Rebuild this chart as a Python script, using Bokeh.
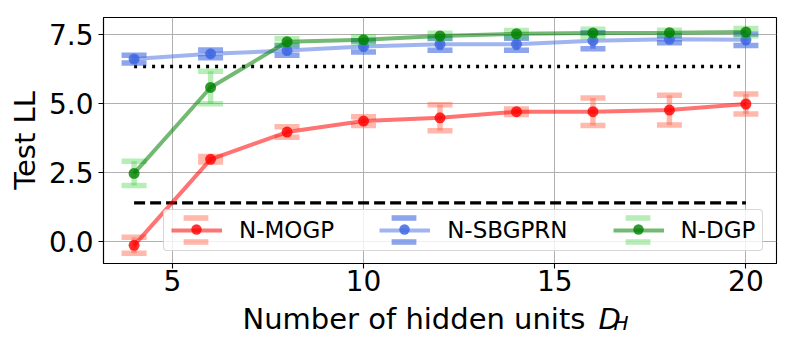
from bokeh.plotting import figure
from bokeh.layouts import column
from bokeh.models import (Range1d, FixedTicker, PrintfTickFormatter, Legend,
                          LegendItem, Label, ColumnDataSource)
from bokeh.embed import file_html
from bokeh.resources import INLINE

# ---------------- data ----------------
hidden_units = [4, 6, 8, 10, 12, 14, 16, 18, 20]

mogp_mean = [-0.15, 2.97, 3.96, 4.36, 4.48, 4.70, 4.70, 4.76, 4.98]
mogp_err = [0.29, 0.10, 0.19, 0.16, 0.47, 0.10, 0.50, 0.54, 0.36]

sbgprn_mean = [6.61, 6.80, 6.92, 7.07, 7.15, 7.15, 7.28, 7.33, 7.31]
sbgprn_err = [0.14, 0.14, 0.17, 0.20, 0.22, 0.22, 0.29, 0.13, 0.21]

dgp_mean = [2.46, 5.58, 7.24, 7.31, 7.45, 7.53, 7.56, 7.57, 7.59]
dgp_err = [0.44, 0.59, 0.11, 0.11, 0.10, 0.12, 0.13, 0.09, 0.13]

series_names = ["N-MOGP", "N-SBGPRN", "N-DGP"]

dotted_baseline = 6.34
dashed_baseline = 1.39

x_ticks = [5, 10, 15, 20]
y_ticks = [0.0, 2.5, 5.0, 7.5]

# ---------------- layout constants ----------------
FONT = "DejaVu Sans"
FRAME_L, FRAME_T = 103, 17          # canvas coords of the plot frame
FRAME_W, FRAME_H = 673, 246
FRAME_BOTTOM = FRAME_T + FRAME_H
MAIN_BOTTOM_BORDER = 70             # larger than the x axis needs -> exact
MAIN_H = FRAME_BOTTOM + MAIN_BOTTOM_BORDER
STRIP_TOP = 285                     # nominal start of the x-label strip
STRIP_H = 60

p = figure(frame_width=FRAME_W, frame_height=FRAME_H,
           min_border_left=FRAME_L, min_border_right=17,
           min_border_top=FRAME_T, min_border_bottom=MAIN_BOTTOM_BORDER,
           x_range=Range1d(3.2, 20.8), y_range=Range1d(-0.81, 8.12),
           output_backend="svg", toolbar_location=None,
           background_fill_color="white", border_fill_color="white")

p.outline_line_color = "black"
p.outline_line_width = 1.1

for ax in (p.xaxis[0], p.yaxis[0]):
    ax.axis_line_color = "black"
    ax.axis_line_width = 1.1
    ax.major_tick_line_color = "black"
    ax.major_tick_line_width = 1.1
    ax.major_tick_out = 5
    ax.major_tick_in = 0
    ax.minor_tick_line_color = None
    ax.major_label_text_font = FONT
    ax.major_label_text_font_size = "28px"
    ax.major_label_text_color = "black"
    ax.major_label_standoff = 5

p.xaxis.ticker = FixedTicker(ticks=x_ticks)
p.yaxis.ticker = FixedTicker(ticks=y_ticks)
p.yaxis.formatter = PrintfTickFormatter(format="%.1f")
p.xaxis.major_label_standoff = 1

p.yaxis.axis_label = "Test LL"
p.yaxis.axis_label_text_font = FONT
p.yaxis.axis_label_text_font_size = "29px"
p.yaxis.axis_label_text_font_style = "normal"
p.yaxis.axis_label_text_color = "black"
p.yaxis.axis_label_standoff = 4

p.xgrid.grid_line_color = "#b0b0b0"
p.ygrid.grid_line_color = "#b0b0b0"
p.xgrid.grid_line_width = 1
p.ygrid.grid_line_width = 1

# ---------------- baselines ----------------
p.line(x=[hidden_units[0], hidden_units[-1]], y=[dotted_baseline, dotted_baseline],
       line_color="black", line_width=3.4, line_dash="3 6")
p.line(x=[hidden_units[0], hidden_units[-1]], y=[dashed_baseline, dashed_baseline],
       line_color="black", line_width=3.2, line_dash="11 5")

# ---------------- series ----------------
styles = [
    dict(color="red", line_alpha=0.55, marker_alpha=0.8, ecolor="tomato", ealpha=0.45),
    dict(color="royalblue", line_alpha=0.5, marker_alpha=0.85, ecolor="royalblue", ealpha=0.6),
    dict(color="green", line_alpha=0.55, marker_alpha=0.8, ecolor="limegreen", ealpha=0.35),
]
means = [mogp_mean, sbgprn_mean, dgp_mean]
errs = [mogp_err, sbgprn_err, dgp_err]

legend_parts = []
for name, mean, err, st in zip(series_names, means, errs, styles):
    src = ColumnDataSource(dict(
        x=hidden_units, y=mean,
        lower=[m - e for m, e in zip(mean, err)],
        upper=[m + e for m, e in zip(mean, err)]))
    p.segment(x0="x", y0="lower", x1="x", y1="upper", source=src,
              line_color=st["ecolor"], line_alpha=st["ealpha"], line_width=5.5)
    cap_kw = dict(width=25, height=5.5, width_units="screen", height_units="screen",
                  fill_color=st["ecolor"], fill_alpha=st["ealpha"], line_color=None,
                  source=src)
    cap_r = p.rect(x="x", y="upper", **cap_kw)
    p.rect(x="x", y="lower", **cap_kw)
    line_r = p.line("x", "y", source=src, line_color=st["color"],
                    line_alpha=st["line_alpha"], line_width=4)
    dot_r = p.scatter("x", "y", source=src, size=11, marker="circle",
                      fill_color=st["color"], fill_alpha=st["marker_alpha"],
                      line_color=None)
    # legend-only renderer for the vertical error bar key
    bar_key = p.rect(x=[], y=[], width=1, height=1, fill_color=st["ecolor"],
                     fill_alpha=st["ealpha"], line_color=None)
    legend_parts.append((name, line_r, cap_r, bar_key, dot_r))

# ---------------- legend ----------------
main_legend = Legend(
    items=[LegendItem(label=name, renderers=[line_r])
           for name, line_r, _, _, _ in legend_parts],
    orientation="horizontal", location=(60, 12), margin=0,
    padding=7, spacing=45, label_standoff=17,
    glyph_width=51, glyph_height=26,
    label_text_font=FONT, label_text_font_size="23px", label_text_color="black",
    border_line_color="#cccccc", border_line_alpha=0.8, border_line_width=1,
    border_radius=4,
    background_fill_color="white", background_fill_alpha=0.8)
p.add_layout(main_legend)

KEY_CX = [195.5, 403.5, 637.5]   # canvas x of the legend key centres
KEY_CY = 229.4                   # canvas y of the legend key centres
CAP_DY = 11.9


def key_piece(renderer, cx, cy, gw, gh):
    loc = (cx - FRAME_L - gw / 2.0, FRAME_BOTTOM - cy - gh / 2.0)
    leg = Legend(items=[LegendItem(label="", renderers=[renderer])],
                 location=loc, margin=0, padding=0, spacing=0,
                 label_standoff=0, label_width=0, label_height=0,
                 glyph_width=gw, glyph_height=gh,
                 label_text_font_size="1px",
                 border_line_color=None, background_fill_alpha=0)
    p.add_layout(leg)


for (name, line_r, cap_r, bar_key, dot_r), cx in zip(legend_parts, KEY_CX):
    key_piece(bar_key, cx, KEY_CY, 7, 30)
    key_piece(cap_r, cx, KEY_CY - CAP_DY, 31, 7)
    key_piece(cap_r, cx, KEY_CY + CAP_DY, 31, 7)
    key_piece(dot_r, cx, KEY_CY, 26, 26)

# ---------------- x axis label strip (with math D_H) ----------------
# transparent strip pulled up over the main figure's bottom border;
# the column aligns this strip's frame with the main frame horizontally
strip_w = FRAME_L + FRAME_W + 17
q = figure(width=strip_w, height=STRIP_H,
           x_range=Range1d(0, strip_w), y_range=Range1d(0, STRIP_H),
           x_axis_type=None, y_axis_type=None, min_border=0,
           output_backend="svg", toolbar_location=None,
           background_fill_alpha=0, border_fill_alpha=0,
           margin=(STRIP_TOP - MAIN_H, 0, 0, 0))
q.outline_line_color = None
q.grid.visible = False

lab_kw = dict(x_units="screen", y_units="screen", text_color="black",
              text_align="left", text_baseline="alphabetic", text_font=FONT)
q.add_layout(Label(x=242 - FRAME_L, y=353 - 326.7, text="Number of hidden units",
                   text_font_size="29px", **lab_kw))
q.add_layout(Label(x=598 - FRAME_L, y=353 - 326.7, text="D", text_font_style="italic",
                   text_font_size="29px", **lab_kw))
q.add_layout(Label(x=613 - FRAME_L, y=353 - 330.5, text="H", text_font_style="italic",
                   text_font_size="20px", **lab_kw))

layout = column(p, q, spacing=0)
open("out.html", "w").write(file_html(layout, INLINE))
